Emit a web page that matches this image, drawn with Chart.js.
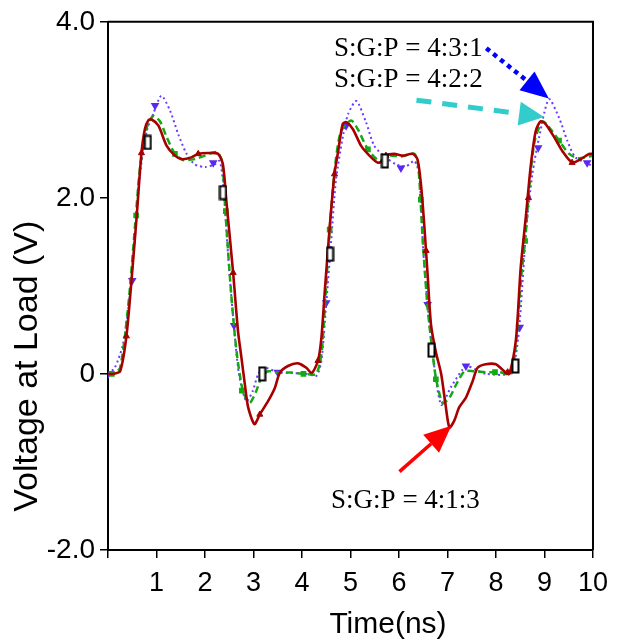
<!DOCTYPE html>
<html>
<head>
<meta charset="utf-8">
<script src="https://cdn.jsdelivr.net/npm/chart.js@4.4.0/dist/chart.umd.min.js"></script>
<style>
  html, body { margin: 0; padding: 0; background: #fff; }
</style>
</head>
<body>
<canvas id="chart" width="617" height="641"></canvas>
<script>
// tick values / labels
const timeTicks = [0, 1, 2, 3, 4, 5, 6, 7, 8, 9, 10];
const voltTicks = [-2, 0, 2, 4];
const voltLabels = ["-2.0", "0", "2.0", "4.0"];

// S:G:P = 4:1:3 (solid red)
const t413 = [0, 0.1, 0.25, 0.38, 0.49, 0.59, 0.69, 0.76, 0.83, 0.9, 1.04, 1.21, 1.38, 1.52, 1.72, 1.86, 2.06, 2.27, 2.37, 2.44, 2.58, 2.68, 2.75, 2.82, 2.89, 3.02, 3.13, 3.3, 3.44, 3.54, 3.71, 3.92, 4.09, 4.2, 4.33, 4.4, 4.47, 4.57, 4.67, 4.74, 4.84, 4.91, 5.05, 5.22, 5.39, 5.56, 5.67, 5.73, 5.9, 6.08, 6.28, 6.38, 6.45, 6.52, 6.59, 6.66, 6.76, 6.87, 6.96, 7.04, 7.14, 7.24, 7.38, 7.52, 7.62, 7.79, 8.0, 8.13, 8.27, 8.41, 8.51, 8.62, 8.72, 8.82, 8.92, 9.02, 9.2, 9.37, 9.57, 9.75, 9.92, 10];
const v413 = [0, 0, 0.03, 0.43, 1.1, 1.78, 2.51, 2.78, 2.88, 2.89, 2.82, 2.59, 2.48, 2.44, 2.46, 2.5, 2.51, 2.5, 2.38, 1.97, 1.15, 0.49, 0.19, -0.11, -0.38, -0.57, -0.46, -0.31, -0.16, 0.01, 0.09, 0.12, 0.07, 0.01, 0.15, 0.41, 0.94, 1.66, 2.27, 2.51, 2.84, 2.86, 2.78, 2.59, 2.48, 2.4, 2.42, 2.48, 2.5, 2.48, 2.5, 2.44, 2.17, 1.7, 1.13, 0.56, 0.25, 0.0, -0.35, -0.61, -0.53, -0.38, -0.27, -0.08, 0.07, 0.11, 0.11, 0.05, 0.0, 0.38, 1.21, 1.81, 2.38, 2.76, 2.87, 2.84, 2.69, 2.53, 2.4, 2.44, 2.5, 2.5];

// S:G:P = 4:2:2 (green dashed)
const t422 = [0, 0.1, 0.25, 0.42, 0.56, 0.66, 0.8, 0.93, 1.07, 1.21, 1.38, 1.55, 1.79, 2.0, 2.24, 2.35, 2.42, 2.54, 2.65, 2.78, 2.92, 3.06, 3.16, 3.3, 3.5, 3.78, 4.05, 4.29, 4.4, 4.47, 4.57, 4.67, 4.8, 5.01, 5.15, 5.36, 5.6, 5.8, 6.05, 6.32, 6.4, 6.49, 6.59, 6.68, 6.76, 6.9, 7.04, 7.18, 7.35, 7.55, 7.79, 8.07, 8.31, 8.42, 8.52, 8.6, 8.7, 8.8, 8.96, 9.1, 9.3, 9.51, 9.7, 10];
const v422 = [0, 0, 0.07, 0.79, 1.7, 2.34, 2.8, 2.93, 2.87, 2.69, 2.5, 2.43, 2.44, 2.48, 2.52, 2.42, 1.85, 0.91, 0.26, -0.19, -0.33, -0.19, -0.04, 0.03, 0.015, 0.015, 0.0, 0.0, 0.22, 0.75, 1.63, 2.3, 2.75, 2.88, 2.78, 2.55, 2.42, 2.48, 2.47, 2.5, 2.35, 1.51, 0.75, 0.3, -0.04, -0.33, -0.27, -0.12, 0.03, 0.03, 0.02, 0.02, 0.0, 0.4, 1.1, 1.51, 2.2, 2.65, 2.87, 2.8, 2.65, 2.5, 2.45, 2.48];

// S:G:P = 4:3:1 (blue dotted)
const t431 = [0, 0.14, 0.31, 0.45, 0.56, 0.66, 0.8, 0.93, 1.1, 1.28, 1.45, 1.62, 1.79, 2.0, 2.2, 2.3, 2.37, 2.48, 2.58, 2.7, 2.85, 2.98, 3.1, 3.23, 3.5, 3.78, 4.1, 4.3, 4.4, 4.5, 4.6, 4.7, 4.85, 4.95, 5.12, 5.32, 5.49, 5.73, 5.94, 6.15, 6.32, 6.42, 6.5, 6.59, 6.7, 6.87, 7.07, 7.31, 7.41, 7.58, 7.8, 8.27, 8.38, 8.48, 8.62, 8.75, 8.89, 9.09, 9.3, 9.47, 9.64, 9.92, 10];
const v431 = [0, 0.07, 0.34, 0.9, 1.59, 2.27, 2.76, 2.95, 3.16, 2.99, 2.72, 2.5, 2.38, 2.35, 2.38, 2.42, 2.19, 1.32, 0.64, 0.0, -0.31, -0.2, 0.0, 0.07, 0.02, 0.01, 0.0, -0.02, 0.15, 0.8, 1.5, 2.2, 2.72, 2.95, 3.1, 2.86, 2.59, 2.46, 2.38, 2.36, 2.42, 2.25, 1.4, 0.79, 0.2, -0.35, -0.15, 0.05, 0.09, 0.05, 0.0, 0.0, 0.12, 0.53, 1.62, 2.27, 2.69, 3.12, 2.91, 2.65, 2.46, 2.38, 2.36];

// marker positions along the traces
const mark413 = [[0.38, 0.43], [0.69, 2.51], [1.86, 2.5], [2.58, 1.15], [3.13, -0.46], [4.33, 0.15], [4.67, 2.27], [5.73, 2.48], [6.56, 1.4], [8.24, 0.02], [8.67, 2.0], [9.57, 2.4]];
const mark422 = [[0.08, 0], [0.58, 1.8], [1.38, 2.5], [2.43, 1.85], [2.76, -0.19], [4.03, 0.0], [4.57, 1.64], [5.36, 2.55], [6.45, 1.98], [6.76, -0.06], [7.98, 0.02], [8.6, 1.51], [9.3, 2.65]];
const mark431 = [[0, 0], [0.5, 1.06], [0.97, 3.05], [2.17, 2.4], [2.6, 0.55], [3.5, 0.02], [4.5, 0.81], [4.91, 2.82], [6.04, 2.34], [6.59, 0.79], [7.38, 0.09], [8.49, 0.53], [8.87, 2.57], [9.88, 2.4]];
const markRef = [[0.82, 2.63], [2.37, 2.06], [3.18, 0.0], [4.58, 1.36], [5.71, 2.42], [6.67, 0.27], [8.4, 0.09]];

const notes = [
  { text: "S:G:P = 4:3:1", t: 4.66, v: 3.61 },
  { text: "S:G:P = 4:2:2", t: 4.66, v: 3.26 },
  { text: "S:G:P = 4:1:3", t: 4.6, v: -1.52 }
];
const arrows = [
  { from: [7.8, 3.7], to: [9.09, 3.13], color: "#0000ff", width: 4.5, dash: [4.5, 4.5], head: 28, half: 12 },
  { from: [6.36, 3.11], to: [8.99, 2.92], color: "#33cccc", width: 5, dash: [15, 11], head: 25, half: 12 },
  { from: [6.01, -1.11], to: [7.08, -0.59], color: "#ff0000", width: 3.5, dash: [], head: 27, half: 12 }
];

function pts(ts, vs) {
  return ts.map((t, i) => ({ x: t, y: vs[i] }));
}
function pairs(list) {
  return list.map(p => ({ x: p[0], y: p[1] }));
}

// tall hollow box marker
const boxMark = document.createElement("canvas");
boxMark.width = 9;
boxMark.height = 16;
(function () {
  const c = boxMark.getContext("2d");
  c.fillStyle = "#fff";
  c.fillRect(1, 1, 7, 14);
  c.strokeStyle = "#000";
  c.lineWidth = 2;
  c.strokeRect(1.5, 1.5, 6, 13);
})();

function drawArrow(ctx, x0, y0, x1, y1, a) {
  const ang = Math.atan2(y1 - y0, x1 - x0);
  const bx = x1 - a.head * Math.cos(ang);
  const by = y1 - a.head * Math.sin(ang);
  ctx.strokeStyle = a.color;
  ctx.fillStyle = a.color;
  ctx.lineWidth = a.width;
  ctx.setLineDash(a.dash);
  ctx.beginPath();
  ctx.moveTo(x0, y0);
  ctx.lineTo(bx, by);
  ctx.stroke();
  ctx.setLineDash([]);
  ctx.beginPath();
  ctx.moveTo(x1, y1);
  ctx.lineTo(bx + a.half * Math.sin(ang), by - a.half * Math.cos(ang));
  ctx.lineTo(bx - a.half * Math.sin(ang), by + a.half * Math.cos(ang));
  ctx.closePath();
  ctx.fill();
}

const frameAndNotes = {
  id: "frameAndNotes",
  afterDatasetsDraw(chart) {
    const { ctx, chartArea: area, scales: { x, y } } = chart;
    ctx.save();
    ctx.strokeStyle = "#000";
    ctx.lineWidth = 2;
    ctx.beginPath();
    ctx.moveTo(area.left, area.top);
    ctx.lineTo(area.right, area.top);
    ctx.lineTo(area.right, area.bottom);
    ctx.stroke();

    ctx.font = '27px "Liberation Serif", "Times New Roman", serif';
    ctx.fillStyle = "#000";
    ctx.textBaseline = "alphabetic";
    ctx.textAlign = "left";
    notes.forEach(n => ctx.fillText(n.text, x.getPixelForValue(n.t), y.getPixelForValue(n.v)));

    arrows.forEach(a => drawArrow(ctx,
      x.getPixelForValue(a.from[0]), y.getPixelForValue(a.from[1]),
      x.getPixelForValue(a.to[0]), y.getPixelForValue(a.to[1]), a));
    ctx.restore();
  }
};

const sans = "'Liberation Sans', Arial, sans-serif";

new Chart(document.getElementById("chart"), {
  type: "scatter",
  data: {
    datasets: [
      { data: pairs(markRef), pointStyle: boxMark, pointRadius: 6, showLine: false, order: 0 },
      { data: pairs(mark413), pointStyle: "triangle", pointRadius: 3.5, backgroundColor: "#a50000", borderColor: "#a50000", borderWidth: 1, showLine: false, order: 1 },
      { label: "S:G:P = 4:1:3", data: pts(t413, v413), showLine: true, borderColor: "#a80000", borderWidth: 2.6, pointRadius: 0, tension: 0.25, order: 2 },
      { data: pairs(mark422), pointStyle: "rect", pointRadius: 4, backgroundColor: "#11aa11", borderColor: "#11aa11", borderWidth: 0, showLine: false, order: 3 },
      { label: "S:G:P = 4:2:2", data: pts(t422, v422), showLine: true, borderColor: "#14a814", borderWidth: 2.5, borderDash: [7, 4], pointRadius: 0, tension: 0.25, order: 4 },
      { data: pairs(mark431), pointStyle: "triangle", rotation: 180, pointRadius: 5, backgroundColor: "#5a28f0", borderColor: "#5a28f0", borderWidth: 0, showLine: false, order: 5 },
      { label: "S:G:P = 4:3:1", data: pts(t431, v431), showLine: true, borderColor: "#6a3cff", borderWidth: 2, borderDash: [2, 3], pointRadius: 0, tension: 0.25, order: 6 }
    ]
  },
  options: {
    responsive: false,
    devicePixelRatio: 1,
    animation: false,
    layout: { padding: { top: 21, right: 21, left: 0, bottom: 0 } },
    plugins: {
      legend: { display: false },
      tooltip: { enabled: false }
    },
    scales: {
      x: {
        type: "linear",
        min: 0,
        max: 10,
        afterBuildTicks: s => { s.ticks = timeTicks.map(v => ({ value: v })); },
        afterFit: s => { s.height = 91; },
        ticks: {
          color: "#000",
          font: { family: sans, size: 27 },
          padding: 9,
          maxRotation: 0,
          callback: v => (v === 0 ? "" : String(v))
        },
        grid: { drawOnChartArea: false, color: "#000", lineWidth: 1.5, tickLength: 8 },
        border: { color: "#000", width: 2 },
        title: {
          display: true,
          text: "         Time(ns)",
          color: "#000",
          font: { family: sans, size: 30, lineHeight: 1 },
          padding: { top: 0, bottom: 1 }
        }
      },
      y: {
        type: "linear",
        min: -2,
        max: 4,
        afterBuildTicks: s => { s.ticks = voltTicks.map(v => ({ value: v })); },
        afterFit: s => { s.width = 108; },
        ticks: {
          color: "#000",
          font: { family: sans, size: 28 },
          padding: 5,
          callback: v => voltLabels[voltTicks.indexOf(v)]
        },
        grid: { drawOnChartArea: false, color: "#000", lineWidth: 1.5, tickLength: 8 },
        border: { color: "#000", width: 2 },
        title: {
          display: true,
          text: "Voltage at Load (V)                 ",
          color: "#000",
          font: { family: sans, size: 34, lineHeight: 1 },
          padding: { top: 11, bottom: 0 }
        }
      }
    }
  },
  plugins: [frameAndNotes]
});
</script>
</body>
</html>
